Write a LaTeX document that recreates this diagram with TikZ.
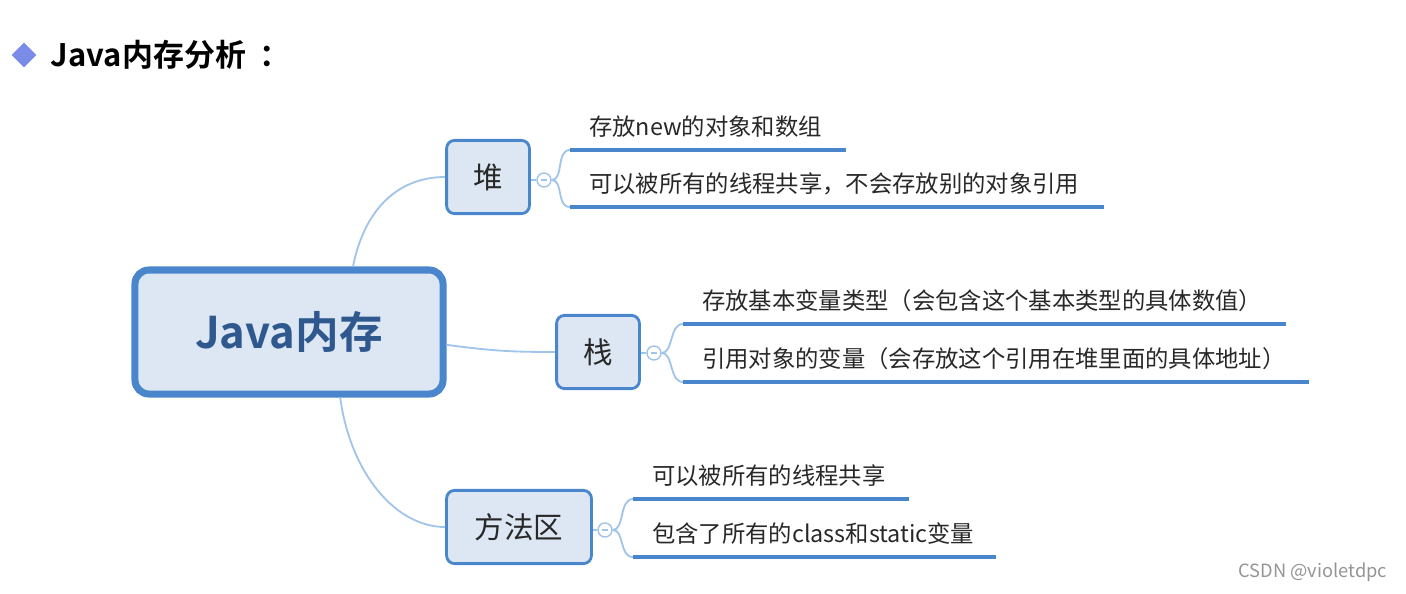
\documentclass[tikz,border=0pt]{standalone}
\usepackage{fontspec}
\setmainfont{Noto Sans CJK SC}[BoldFont={Noto Sans CJK SC Bold}]
\usetikzlibrary{shapes.geometric}
\definecolor{edgeblue}{RGB}{74,134,204}
\definecolor{boxfill}{RGB}{221,231,243}
\definecolor{twigblue}{RGB}{160,196,234}
\definecolor{coretext}{RGB}{46,88,142}
\definecolor{leaftext}{RGB}{40,40,40}
\definecolor{bulletblue}{RGB}{122,140,232}
\begin{document}
\begin{tikzpicture}[x=0.025cm,y=-0.025cm,
  topic/.style={draw=edgeblue,line width=5pt,fill=boxfill,rounded corners=0.35cm,minimum width=7.7cm,minimum height=3.1cm,font=\fontsize{31}{31}\selectfont\bfseries,text=coretext},
  branchbox/.style={draw=edgeblue,line width=2pt,fill=boxfill,rounded corners=0.2cm,minimum height=1.83cm,font=\fontsize{21}{21}\selectfont,text=leaftext},
  leaf/.style={anchor=south west,inner xsep=0.47cm,inner ysep=0pt,text depth=0.35cm,align=left,font=\fontsize{16.6}{17}\selectfont,text=leaftext},
  fold/.style={circle,draw=twigblue,line width=1pt,fill=white,minimum size=0.35cm,inner sep=0pt,
    path picture={\draw[twigblue,line width=0.8pt] ([xshift=-1.8pt]path picture bounding box.center) -- ([xshift=1.8pt]path picture bounding box.center);}},
  twig/.style={draw=twigblue,line width=1.3pt},
  uline/.style={draw=edgeblue,line width=2.8pt}]
\useasboundingbox (0,0) rectangle (1406,593);
% title
\node[diamond,fill=bulletblue,minimum size=0.62cm,inner sep=0pt] (bullet) at (24,55) {};
\node[anchor=west,font=\fontsize{22}{22}\selectfont\bfseries] (title) at (46,55) {Java内存分析\kern0.45em：};
% central topic and its three branches
\node[topic] (core) at (289,332) {Java内存};
\node[branchbox,minimum width=2.07cm] (heap) at (488,177) {堆};
\node[branchbox,minimum width=2.07cm] (stack) at (598,352) {栈};
\node[branchbox,minimum width=3.62cm] (method) at (519,527) {方法区};
\draw[twig] ([xshift=1.6cm]core.north) .. controls +(12,-60) and +(-45,0) .. (heap.west);
\draw[twig] ([yshift=-0.32cm]core.east) .. controls +(45,6) and +(-45,0) .. (stack.west);
\draw[twig] ([xshift=1.28cm]core.south) .. controls +(10,75) and +(-50,0) .. (method.west);
% fold markers
\node[fold] (hf) at (544,180) {};
\node[fold] (sf) at (654,353) {};
\node[fold] (mf) at (605,530) {};
\draw[twig] (heap.east |- hf) -- (hf.west);
\draw[twig] (stack.east |- sf) -- (sf.west);
\draw[twig] (method.east |- mf) -- (mf.west);
% leaves
\node[leaf,text width=5.94cm] (h1) at (570,150) {存放new的对象和数组};
\node[leaf,text width=12.39cm] (h2) at (570,207) {可以被所有的线程共享，不会存放别的对象引用};
\node[leaf,text width=14.11cm] (s1) at (683,324) {存放基本变量类型（会包含这个基本类型的具体数值）};
\node[leaf,text width=14.69cm] (s2) at (683,382) {引用对象的变量（会存放这个引用在堆里面的具体地址）};
\node[leaf,text width=5.94cm] (m1) at (633,499) {可以被所有的线程共享};
\node[leaf,text width=8.11cm] (m2) at (633,557) {包含了所有的class和static变量};
\foreach \f/\a/\b in {hf/h1/h2,sf/s1/s2,mf/m1/m2} {
  \draw[twig] (\f.east) .. controls +(12,0) and +(-14,0) .. (\a.south west);
  \draw[twig] (\f.east) .. controls +(12,0) and +(-14,0) .. (\b.south west);
}
\foreach \n in {h1,h2,s1,s2,m1,m2} {\draw[uline] (\n.south west) -- (\n.south east);}
% watermark
\node[anchor=east,text=black!42,font=\fontsize{13}{13}\selectfont] (mark) at (1392,572) {CSDN @violetdpc};
\end{tikzpicture}
\end{document}
